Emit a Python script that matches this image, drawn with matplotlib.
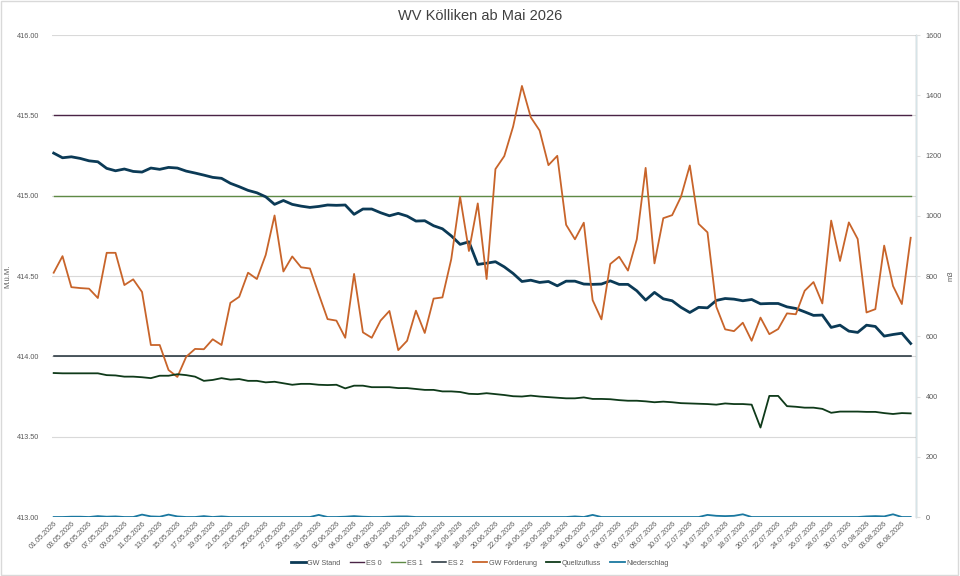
import numpy as np
import pandas as pd
import matplotlib
matplotlib.use("Agg")
import matplotlib.pyplot as plt
import matplotlib.dates as mdates
from matplotlib.patches import Rectangle

plt.rcParams['font.family'] = ['Liberation Sans', 'DejaVu Sans']

# Tageswerte 01.05.2026 - 06.08.2026
dates = pd.date_range("2026-05-01", "2026-08-06", freq="D")

gw_stand = [
    415.265, 415.236, 415.242, 415.232, 415.217, 415.211, 415.170, 415.155, 415.166, 415.151,
    415.147, 415.172, 415.164, 415.176, 415.172, 415.153, 415.141, 415.128, 415.114, 415.108,
    415.077, 415.056, 415.033, 415.018, 414.993, 414.946, 414.970, 414.946, 414.935, 414.927,
    414.933, 414.942, 414.940, 414.942, 414.884, 414.917, 414.917, 414.894, 414.875, 414.890,
    414.873, 414.842, 414.844, 414.813, 414.794, 414.750, 414.697, 414.713, 414.572, 414.580,
    414.589, 414.557, 414.516, 414.466, 414.474, 414.460, 414.466, 414.439, 414.468, 414.468,
    414.450, 414.448, 414.450, 414.470, 414.448, 414.448, 414.408, 414.350, 414.398, 414.358,
    414.346, 414.305, 414.273, 414.305, 414.302, 414.348, 414.360, 414.356, 414.346, 414.354,
    414.327, 414.329, 414.329, 414.308, 414.298, 414.277, 414.255, 414.257, 414.180, 414.194,
    414.157, 414.149, 414.194, 414.186, 414.126, 414.136, 414.144, 414.080,
]

gw_foerderung = [
    811, 866, 763, 760, 758, 727, 877, 877, 770, 789,
    747, 571, 571, 488, 465, 532, 558, 557, 590, 571,
    711, 731, 811, 790, 870, 1001, 815, 865, 829, 825,
    740, 657, 652, 595, 807, 613, 595, 652, 684, 554,
    585, 685, 611, 725, 729, 856, 1063, 883, 1041, 790,
    1155, 1198, 1296, 1431, 1327, 1283, 1168, 1199, 970, 922,
    977, 720, 656, 840, 864, 818, 922, 1159, 842, 992,
    1002, 1063, 1167, 973, 945, 698, 623, 617, 645, 585,
    662, 607, 624, 676, 673, 751, 780, 709, 984, 850,
    978, 923, 679, 690, 901, 767, 707, 927,
]

quellzufluss = [
    478, 477, 477, 477, 477, 477, 471, 470, 466, 466,
    464, 461, 469, 469, 474, 471, 466, 452, 455, 461,
    456, 458, 452, 452, 447, 449, 444, 439, 442, 442,
    439, 438, 439, 427, 436, 436, 431, 431, 431, 428,
    428, 425, 422, 422, 417, 417, 415, 409, 408, 411,
    408, 405, 401, 400, 403, 400, 398, 396, 394, 394,
    397, 392, 392, 391, 388, 386, 386, 384, 381, 383,
    381, 378, 377, 376, 375, 373, 377, 375, 375, 373,
    297, 402, 402, 368, 366, 363, 363, 359, 346, 350,
    350, 350, 349, 349, 345, 342, 345, 344,
]

niederschlag = [
    0, 0, 1, 1, 0, 3, 1, 2, 0, 0,
    8, 2, 1, 8, 2, 0, 0, 3, 0, 2,
    0, 0, 0, 0, 0, 0, 0, 0, 0, 0,
    7, 0, 0, 1, 3, 1, 0, 0, 1, 2,
    2, 0, 0, 0, 0, 0, 0, 0, 0, 0,
    0, 0, 0, 0, 0, 0, 0, 0, 0, 2,
    0, 7, 0, 0, 0, 0, 0, 0, 0, 0,
    0, 0, 0, 0, 7, 4, 3, 4, 9, 0,
    0, 0, 0, 0, 0, 0, 0, 0, 0, 0,
    0, 0, 2, 3, 2, 9, 0, 0,
]

es0, es1, es2 = 415.5, 415.0, 414.0

c_text = '#595959'
fig = plt.figure(figsize=(9.6, 5.76), dpi=100)
ax = fig.add_axes([0.054, 0.1024, 0.9, 0.8368])
ax2 = ax.twinx()

n = len(dates)
l1, = ax.plot(dates, gw_stand, color='#0b3a56', lw=2.0, label='GW Stand', zorder=5)
l2, = ax.plot(dates, np.full(n, es0), color='#4a2446', lw=1.0, label='ES 0')
l3, = ax.plot(dates, np.full(n, es1), color='#5e8a45', lw=1.0, label='ES 1')
l4, = ax.plot(dates, np.full(n, es2), color='#1d2c35', lw=1.1, label='ES 2')
l5, = ax2.plot(dates, gw_foerderung, color='#c8642a', lw=1.3, label='GW Förderung')
l6, = ax2.plot(dates, quellzufluss, color='#0f3a1a', lw=1.3, label='Quellzufluss')
l7, = ax2.plot(dates, niederschlag, color='#1a78a0', lw=1.3, label='Niederschlag')

ax.set_ylim(413, 416)
ax.set_yticks(np.arange(413, 416.01, 0.5))
ax.yaxis.set_major_formatter(matplotlib.ticker.FormatStrFormatter('%.2f'))
ax2.set_ylim(0, 1600)
ax2.set_yticks(np.arange(0, 1601, 200))

ax.set_xlim(dates[0] - pd.Timedelta(hours=5), dates[-1] + pd.Timedelta(hours=14))
ax.set_xticks(dates[::2])
ax.xaxis.set_major_formatter(mdates.DateFormatter('%d.%m.%Y'))
for lab in ax.get_xticklabels():
    lab.set_rotation(45)
    lab.set_ha('right')
    lab.set_rotation_mode('anchor')

ax.grid(axis='y', color='#d9d9d9', lw=0.8)
ax.set_axisbelow(True)
for a in (ax, ax2):
    for s in ('top', 'left', 'bottom'):
        a.spines[s].set_visible(False)
ax2.spines['right'].set_color('#d6e4e8')
ax2.spines['right'].set_linewidth(1.0)

ax.tick_params(axis='y', length=0, labelsize=5.2, labelcolor=c_text, pad=9)
ax.tick_params(axis='x', length=0, labelsize=5.2, labelcolor=c_text, pad=2)
ax2.tick_params(axis='y', length=3, color='#e0e0e0', labelsize=5.2, labelcolor=c_text, pad=4)

ax.set_ylabel('M.ü.M.', fontsize=5.5, color=c_text, labelpad=4)
ax2.set_ylabel('m3', fontsize=5.5, color=c_text, labelpad=4)

fig.suptitle('WV Kölliken ab Mai 2026', y=0.985, fontsize=10.5, color='#404040')

fig.legend(handles=[l1, l2, l3, l4, l5, l6, l7], loc='lower center',
           bbox_to_anchor=(0.5, 0.005), ncol=7, frameon=False, fontsize=5.2,
           handlelength=2.0, columnspacing=1.3, handletextpad=0.2,
           labelcolor=c_text)

fig.patches.append(Rectangle((0.001, 0.001), 0.997, 0.997, transform=fig.transFigure,
                             fill=False, edgecolor='#d9d9d9', lw=1.0))

fig.savefig('out.png', dpi=100)
